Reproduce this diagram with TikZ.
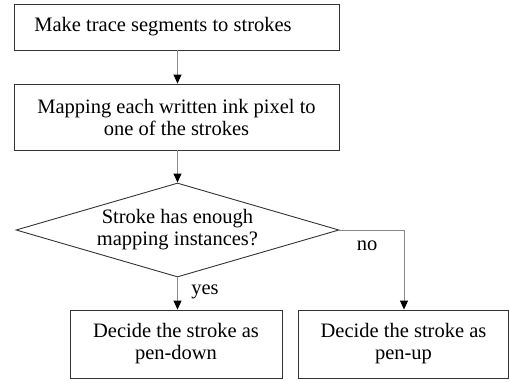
\documentclass[tikz,border=0pt]{standalone}
\usepackage{fontspec}
\setmainfont{Liberation Serif}
\usetikzlibrary{shapes.geometric,arrows.meta}
\definecolor{boxline}{HTML}{333333}
\definecolor{conn}{HTML}{8A8A8A}
\begin{document}
\begin{tikzpicture}[x=1pt,y=-1pt,
  every node/.style={font=\fontsize{20.5}{22}\selectfont},
  procbox/.style={draw=boxline,line width=0.9pt,rectangle,align=center,inner sep=0pt},
  decbox/.style={draw=boxline,line width=0.9pt,diamond,align=center,inner sep=0pt,shape aspect=3.44},
  conn/.style={draw=conn,line width=0.9pt,-{Triangle[length=9pt,width=8pt,black]}},
  lbl/.style={inner sep=0pt}]
\useasboundingbox (0,0) rectangle (509,381);
\node[draw=boxline,line width=0.9pt,rectangle,inner sep=0pt,minimum width=325pt,minimum height=46pt] (n1) at (176.5,27) {\hspace*{-27pt}Make trace segments to strokes};
\node[procbox,minimum width=325pt,minimum height=66pt] (n2) at (176.5,117) {Mapping each written ink pixel to\\one of the strokes};
\node[decbox,minimum width=323pt,minimum height=94pt] (d) at (177.5,230) {Stroke has enough\\mapping instances?};
\node[procbox,minimum width=212pt,minimum height=68pt] (b1) at (176,344) {Decide the stroke as\\pen-down};
\node[procbox,minimum width=210pt,minimum height=68pt] (b2) at (403.5,344) {Decide the stroke as\\pen-up};
\coordinate (c1) at (177.5,0);
\coordinate (c2) at (404,0);
\draw[conn] (n1.south -| c1) -- (n2.north -| c1);
\draw[conn] (n2.south -| c1) -- (d.north);
\draw[conn] (d.south) -- (b1.north -| d.south);
\draw[conn] (d.east) -| (b2.north -| c2);
\node[lbl] (no) at (367,246) {no};
\node[lbl] (yes) at (205,292) {yes};
\end{tikzpicture}
\end{document}
